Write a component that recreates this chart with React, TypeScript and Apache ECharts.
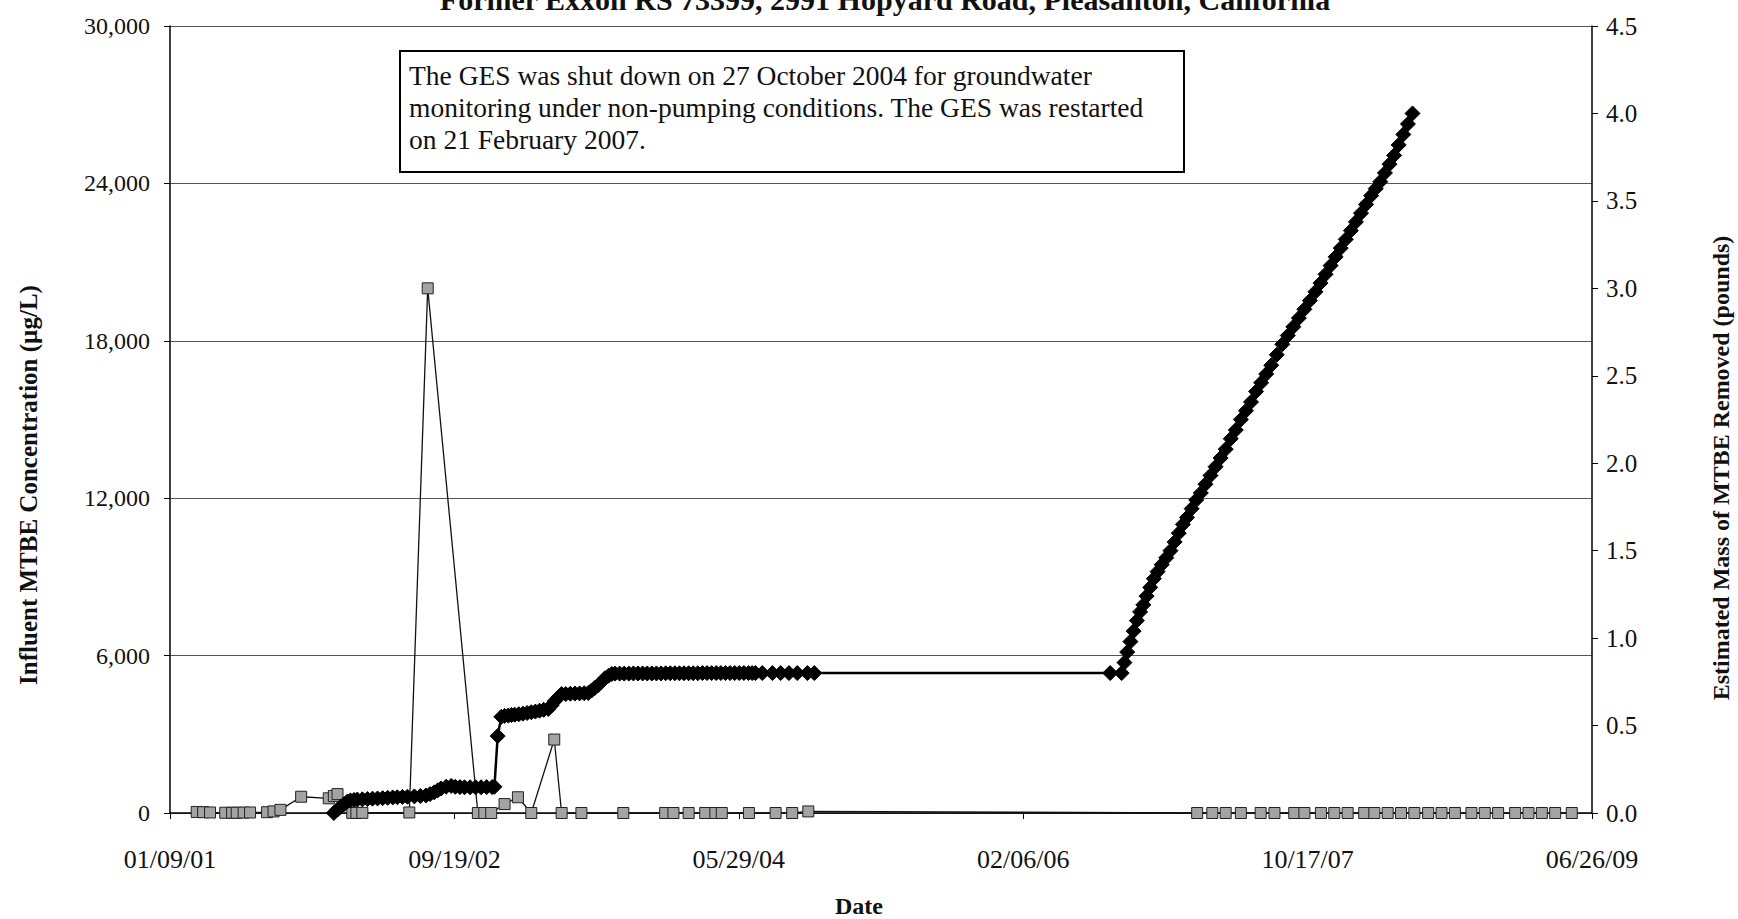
import React, { useEffect, useRef } from "react";
import * as echarts from "echarts";

// x values are days after 01/09/01 (axis starts there, ticks every 618 days)
const xTickLabels = ["01/09/01", "09/19/02", "05/29/04", "02/06/06", "10/17/07", "06/26/09"];
const X_STEP = 618;

// Influent MTBE concentration (ug/L) - grey squares
const concDays = [
  58, 72, 87, 120, 135, 145, 160, 174, 211, 225, 240, 285, 345, 356, 364, 396, 405, 418, 520, 560,
  669, 683, 698, 727, 756, 785, 835, 851, 894, 985, 1076, 1094, 1127, 1163, 1185, 1199, 1258, 1316,
  1352, 1387, 2232, 2265, 2294, 2327, 2370, 2400, 2443, 2465, 2501, 2530, 2559, 2595, 2617, 2646,
  2675, 2704, 2734, 2763, 2792, 2828, 2857, 2886, 2923, 2952, 2981, 3010, 3046,
];
const concValues = [
  40, 30, 20, 10, 10, 10, 15, 20, 30, 60, 120, 620, 560, 650, 720, 5, 5, 5, 20, 20000,
  0, 0, 0, 340, 600, 0, 2800, 0, 0, 0, 0, 0, 0, 0, 0, 0, 0, 0,
  0, 60, 0, 0, 0, 0, 0, 0, 0, 0, 0, 0, 0, 0, 0, 0,
  0, 0, 0, 0, 0, 0, 0, 0, 0, 0, 0, 0, 0,
];

// Estimated cumulative mass of MTBE removed (pounds) - black diamonds
const massDays = [
  356, 364, 371, 378, 385, 392, 400, 407, 418, 429, 440, 451, 462, 473, 484, 494, 505, 516, 531, 544,
  556, 565, 574, 582, 589, 600, 611, 620, 630, 640, 652, 664, 676, 688, 700, 705, 712, 720, 727, 735,
  742, 749, 758, 767, 776, 785, 794, 803, 812, 822, 829, 836, 844, 851, 860, 870, 880, 890, 900, 909,
  916, 923, 930, 938, 945, 953, 960, 967, 977, 987, 997, 1007, 1017, 1027, 1037, 1047, 1057, 1067,
  1077, 1087, 1097, 1107, 1117, 1127, 1137, 1147, 1157, 1167, 1177, 1187, 1197, 1207, 1217, 1227,
  1237, 1247, 1257, 1265, 1272, 1287, 1309, 1327, 1345, 1363, 1385, 1400,
  2043, 2068, 2074, 2080, 2087, 2094, 2101, 2108, 2115, 2122, 2130, 2138, 2146, 2155, 2165, 2174,
  2183, 2192, 2201, 2210, 2220, 2230, 2240, 2250, 2261, 2272, 2283, 2294, 2305, 2316, 2327, 2338,
  2349, 2360, 2371, 2382, 2393, 2405, 2417, 2429, 2441, 2453, 2465, 2477, 2489, 2500, 2511, 2522,
  2533, 2544, 2555, 2566, 2577, 2588, 2599, 2610, 2620, 2630, 2640, 2650, 2660, 2670, 2680, 2690, 2700,
];
const massValues = [
  0.0, 0.02, 0.035, 0.05, 0.065, 0.072, 0.075, 0.077, 0.078, 0.08, 0.082, 0.083, 0.085, 0.087, 0.089, 0.09, 0.092, 0.093, 0.095, 0.097,
  0.1, 0.108, 0.118, 0.13, 0.14, 0.15, 0.155, 0.15, 0.148, 0.147, 0.147, 0.147, 0.147, 0.148, 0.148, 0.15, 0.44, 0.55, 0.555, 0.557,
  0.56, 0.562, 0.565, 0.568, 0.572, 0.576, 0.58, 0.585, 0.59, 0.595, 0.615, 0.64, 0.662, 0.68, 0.68, 0.682, 0.683, 0.684, 0.685, 0.686,
  0.7, 0.715, 0.73, 0.75, 0.77, 0.785, 0.795, 0.797, 0.797, 0.797, 0.797, 0.798, 0.798, 0.798, 0.798, 0.798, 0.798, 0.798,
  0.799, 0.799, 0.799, 0.799, 0.799, 0.799, 0.799, 0.799, 0.8, 0.8, 0.8, 0.8, 0.8, 0.8, 0.8, 0.8,
  0.8, 0.8, 0.8, 0.8, 0.8, 0.8, 0.8, 0.8, 0.8, 0.8, 0.8, 0.8,
  0.8, 0.8, 0.86, 0.92, 0.98, 1.04, 1.1, 1.15, 1.19, 1.24, 1.29, 1.34, 1.38, 1.42, 1.46, 1.5,
  1.55, 1.6, 1.65, 1.69, 1.74, 1.79, 1.83, 1.88, 1.93, 1.98, 2.03, 2.08, 2.14, 2.19, 2.25, 2.3,
  2.35, 2.41, 2.46, 2.51, 2.56, 2.62, 2.68, 2.73, 2.78, 2.83, 2.88, 2.93, 2.98, 3.03, 3.08, 3.13,
  3.18, 3.23, 3.28, 3.33, 3.38, 3.43, 3.48, 3.53, 3.57, 3.61, 3.66, 3.71, 3.76, 3.82, 3.88, 3.94, 4.0,
];

const titleText = "Former Exxon RS 73399, 2991 Hopyard Road, Pleasanton, California";
const noteText =
  "The GES was shut down on 27 October 2004 for groundwater\nmonitoring under non-pumping conditions. The GES was restarted\non 21 February 2007.";
const leftAxisTitle = "Influent MTBE Concentration (\u00b5g/L)";
const rightAxisTitle = "Estimated Mass of MTBE Removed (pounds)";
const xAxisTitle = "Date";

const FONT = '"Liberation Serif", "Times New Roman", serif';

export default function App() {
  const ref = useRef<HTMLDivElement>(null);

  useEffect(() => {
    if (!ref.current) return;
    const chart = echarts.init(ref.current, undefined, { renderer: "svg" });

    const concData = concDays.map((d, i) => [d, concValues[i]]);
    const massData = massDays.map((d, i) => [d, massValues[i]]);

    chart.setOption({
      animation: false,
      backgroundColor: "#ffffff",
      textStyle: { fontFamily: FONT },
      grid: { left: 170, right: 146, top: 26, bottom: 106, containLabel: false },
      xAxis: {
        type: "value",
        min: 0,
        max: X_STEP * 5,
        interval: X_STEP,
        axisLine: { show: true, onZero: false, lineStyle: { color: "#000", width: 1.5 } },
        axisTick: { show: true, length: 6, lineStyle: { color: "#000" } },
        axisLabel: {
          margin: 33,
          fontSize: 26,
          color: "#111",
          fontFamily: FONT,
          formatter: (v: number) => xTickLabels[Math.round(v / X_STEP)] ?? "",
        },
        splitLine: { show: false },
      },
      yAxis: [
        {
          type: "value",
          min: 0,
          max: 30000,
          interval: 6000,
          position: "left",
          axisLine: { show: true, lineStyle: { color: "#000", width: 1.5 } },
          axisTick: { show: true, length: 6, lineStyle: { color: "#000" } },
          axisLabel: {
            margin: 20,
            fontSize: 24,
            color: "#111",
            fontFamily: FONT,
            formatter: (v: number) => v.toLocaleString("en-US"),
          },
          splitLine: { show: true, lineStyle: { color: "#555", width: 1.2 } },
        },
        {
          type: "value",
          min: 0,
          max: 4.5,
          interval: 0.5,
          position: "right",
          axisLine: { show: true, lineStyle: { color: "#000", width: 1.5 } },
          axisTick: { show: true, length: 6, lineStyle: { color: "#000" } },
          axisLabel: {
            margin: 14,
            fontSize: 25,
            color: "#111",
            fontFamily: FONT,
            formatter: (v: number) => v.toFixed(1),
          },
          splitLine: { show: false },
        },
      ],
      series: [
        {
          type: "line",
          name: "Influent MTBE Concentration",
          yAxisIndex: 0,
          data: concData,
          symbol: "rect",
          symbolSize: 11,
          clip: false,
          itemStyle: { color: "#a3a3a3", borderColor: "#222", borderWidth: 1 },
          lineStyle: { color: "#111", width: 1.3 },
          z: 2,
        },
        {
          type: "line",
          name: "Estimated Mass Removed",
          yAxisIndex: 1,
          data: massData,
          symbol: "diamond",
          symbolSize: [15, 15],
          clip: false,
          itemStyle: { color: "#000", borderColor: "#000" },
          lineStyle: { color: "#000", width: 2.5 },
          z: 3,
        },
      ],
      graphic: [
        {
          type: "text",
          x: 885,
          y: 14,
          z: 100,
          style: {
            text: titleText,
            font: `bold 30px ${FONT}`,
            fill: "#111",
            textAlign: "center",
            textVerticalAlign: "bottom",
          },
        },
        {
          type: "rect",
          z: 100,
          shape: { x: 400, y: 51, width: 784, height: 121 },
          style: { fill: "#fff", stroke: "#000", lineWidth: 2 },
        },
        {
          type: "text",
          x: 409,
          y: 59,
          z: 101,
          style: {
            text: noteText,
            font: `27.5px ${FONT}`,
            lineHeight: 32,
            fill: "#111",
          },
        },
        {
          type: "text",
          x: 28,
          y: 485,
          rotation: Math.PI / 2,
          z: 100,
          style: {
            text: leftAxisTitle,
            font: `bold 25px ${FONT}`,
            fill: "#111",
            textAlign: "center",
            textVerticalAlign: "middle",
          },
        },
        {
          type: "text",
          x: 1721,
          y: 468,
          rotation: Math.PI / 2,
          z: 100,
          style: {
            text: rightAxisTitle,
            font: `bold 24px ${FONT}`,
            fill: "#111",
            textAlign: "center",
            textVerticalAlign: "middle",
          },
        },
        {
          type: "text",
          x: 859,
          y: 906,
          z: 100,
          style: {
            text: xAxisTitle,
            font: `bold 24px ${FONT}`,
            fill: "#111",
            textAlign: "center",
            textVerticalAlign: "middle",
          },
        },
      ],
    });

    return () => chart.dispose();
  }, []);

  return (
    <div
      ref={ref}
      style={{ position: "fixed", left: 0, top: 0, width: 1738, height: 919, background: "#fff" }}
    />
  );
}
